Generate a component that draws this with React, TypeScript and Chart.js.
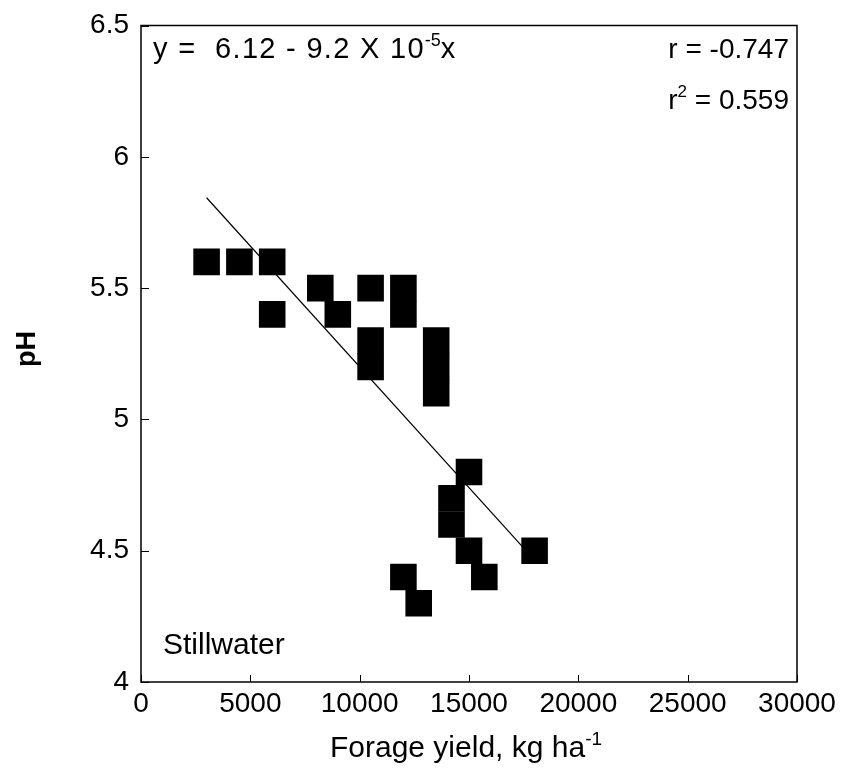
import React, { useEffect, useRef } from "react";
import { Chart, registerables } from "chart.js";

Chart.register(...registerables);

// Forage yield (kg/ha) and soil pH for each plot, Stillwater site
const yieldKg = [3000, 4500, 6000, 6000, 8200, 9000, 10500, 10500, 10500, 12000, 12000, 13500, 13500, 13500, 15000, 14200, 14200, 15000, 15700, 18000, 12000, 12700];
const soilPH = [5.6, 5.6, 5.6, 5.4, 5.5, 5.4, 5.5, 5.3, 5.2, 5.5, 5.4, 5.3, 5.2, 5.1, 4.8, 4.7, 4.6, 4.5, 4.4, 4.5, 4.4, 4.3];

// Fitted regression y = a + b x, drawn over the observed range
const intercept = 6.12;
const slope = -9.2e-5;
const fitRange = [3000, 18000];

const xTicks = [0, 5000, 10000, 15000, 20000, 25000, 30000];
const yTicks = [4, 4.5, 5, 5.5, 6, 6.5];

const FONT = "'Liberation Sans', Arial, sans-serif";

type Part = { t: string; sup?: boolean };

function setFont(ctx: CanvasRenderingContext2D, p: Part, size: number, spacing: number) {
  ctx.font = `${p.sup ? Math.round(size * 0.62) : size}px ${FONT}`;
  (ctx as any).letterSpacing = `${p.sup ? 0 : spacing}px`;
}

function richWidth(ctx: CanvasRenderingContext2D, parts: Part[], size: number, spacing: number) {
  let w = 0;
  for (const p of parts) {
    setFont(ctx, p, size, spacing);
    w += ctx.measureText(p.t).width;
  }
  return w;
}

function drawRich(
  ctx: CanvasRenderingContext2D,
  parts: Part[],
  x: number,
  y: number,
  size: number,
  align: "left" | "right" | "center",
  spacing = 0
) {
  const w = richWidth(ctx, parts, size, spacing);
  let cx = align === "left" ? x : align === "right" ? x - w : x - w / 2;
  ctx.textAlign = "left";
  ctx.textBaseline = "alphabetic";
  for (const p of parts) {
    setFont(ctx, p, size, spacing);
    ctx.fillText(p.t, cx, p.sup ? y - size * 0.4 : y);
    cx += ctx.measureText(p.t).width;
  }
  (ctx as any).letterSpacing = "0px";
}

const framePlugin = {
  id: "frame",
  afterDraw(chart: any) {
    const { ctx, chartArea } = chart;
    const { left, right, top, bottom } = chartArea;
    const xs = chart.scales.x;
    const ys = chart.scales.y;
    ctx.save();
    ctx.strokeStyle = "#000";
    ctx.lineWidth = 1.5;
    ctx.strokeRect(left, top, right - left, bottom - top);
    ctx.lineWidth = 1;
    ctx.beginPath();
    for (const v of xTicks) {
      const px = Math.round(xs.getPixelForValue(v)) + 0.5;
      ctx.moveTo(px, bottom);
      ctx.lineTo(px, bottom - 7);
    }
    for (const v of yTicks) {
      const py = Math.round(ys.getPixelForValue(v)) + 0.5;
      ctx.moveTo(left, py);
      ctx.lineTo(left + 8, py);
    }
    ctx.stroke();

    ctx.fillStyle = "#000";
    drawRich(ctx, [{ t: "y =  6.12 - 9.2 X 10" }, { t: "-5", sup: true }, { t: "x" }], left + 12, top + 32, 29, "left", 1.3);
    drawRich(ctx, [{ t: "r = -0.747" }], right - 8, top + 32, 28, "right");
    drawRich(ctx, [{ t: "r" }, { t: "2", sup: true }, { t: " = 0.559" }], right - 8, top + 83, 28, "right");
    drawRich(ctx, [{ t: "Stillwater" }], left + 22, bottom - 28, 30, "left");

    // axis titles
    drawRich(ctx, [{ t: "Forage yield, kg ha" }, { t: "-1", sup: true }], (left + right) / 2 - 3, 757, 30, "center");
    ctx.translate(28, 349);
    ctx.rotate(-Math.PI / 2);
    ctx.font = `bold 27px ${FONT}`;
    ctx.textAlign = "center";
    ctx.textBaseline = "middle";
    ctx.fillText("pH", 0, 0);
    ctx.restore();
  },
};

export default function App() {
  const ref = useRef<HTMLCanvasElement>(null);

  useEffect(() => {
    document.body.style.margin = "0";
    const canvas = ref.current!;
    const chart = new Chart(canvas, {
      type: "scatter",
      data: {
        datasets: [
          {
            type: "scatter",
            data: yieldKg.map((x, i) => ({ x, y: soilPH[i] })),
            backgroundColor: "#000",
            borderColor: "#000",
            borderWidth: 0,
            pointStyle: "rect",
            pointRadius: 18.8,
            pointHoverRadius: 18.8,
            order: 0,
          },
          {
            type: "line",
            data: fitRange.map((x) => ({ x, y: intercept + slope * x })),
            borderColor: "#000",
            borderWidth: 1.2,
            pointRadius: 0,
            fill: false,
            order: 1,
          },
        ],
      },
      options: {
        animation: false,
        responsive: false,
        devicePixelRatio: 1,
        layout: { padding: { top: 25.5, right: 45, left: 0, bottom: 0 } },
        plugins: {
          legend: { display: false },
          tooltip: { enabled: false },
        },
        scales: {
          x: {
            type: "linear",
            min: 0,
            max: 30000,
            afterFit: (s: any) => {
              s.height = 96;
            },
            afterBuildTicks: (s: any) => {
              s.ticks = xTicks.map((v) => ({ value: v }));
            },
            grid: { display: false },
            border: { display: false },
            ticks: {
              font: { family: FONT, size: 28 },
              color: "#000",
              padding: -3,
              maxRotation: 0,
              callback: (v: any) => String(v),
            },
          },
          y: {
            type: "linear",
            min: 4,
            max: 6.5,
            afterFit: (s: any) => {
              s.width = 141;
            },
            afterBuildTicks: (s: any) => {
              s.ticks = yTicks.map((v) => ({ value: v }));
            },
            grid: { display: false },
            border: { display: false },
            ticks: {
              font: { family: FONT, size: 28 },
              color: "#000",
              padding: 4,
              callback: (v: any) => String(v),
            },
          },
        },
      },
      plugins: [framePlugin],
    });
    return () => chart.destroy();
  }, []);

  return (
    <div style={{ width: 842, height: 778, background: "#fff" }}>
      <canvas ref={ref} width={842} height={778} />
    </div>
  );
}
